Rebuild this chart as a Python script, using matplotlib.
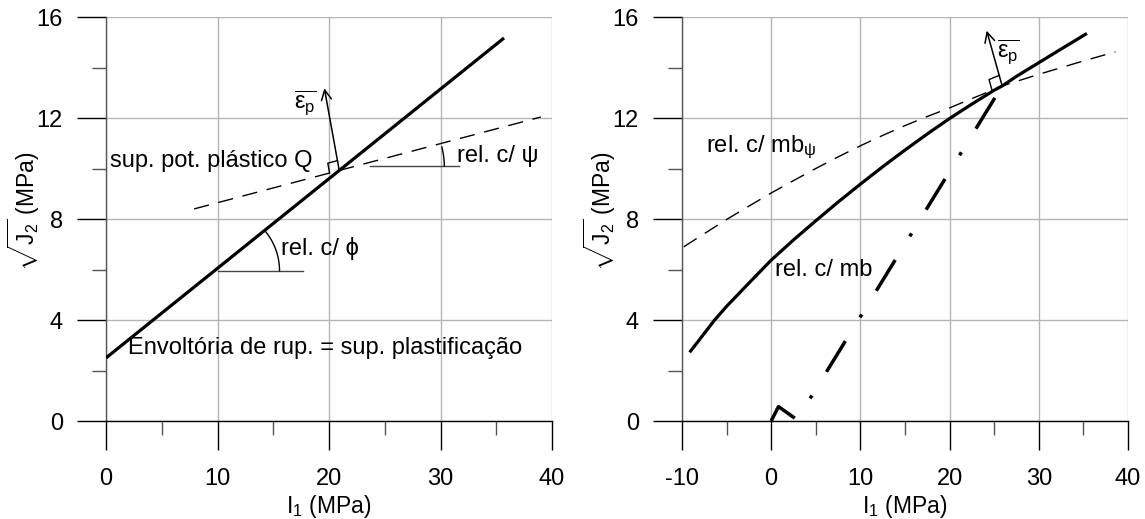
import matplotlib
matplotlib.use('Agg')
import matplotlib.pyplot as plt
import numpy as np
from matplotlib.ticker import MultipleLocator

plt.rcParams['font.family'] = ['Liberation Sans', 'DejaVu Sans']
plt.rcParams['mathtext.fontset'] = 'custom'
plt.rcParams['mathtext.rm'] = 'Liberation Sans'
plt.rcParams['mathtext.it'] = 'Liberation Sans'
plt.rcParams['mathtext.bf'] = 'Liberation Sans:bold'
plt.rcParams['lines.scale_dashes'] = False

# dados - painel esquerdo
env_x = [0.0, 35.7]           # envoltoria de ruptura
env_y = [2.5, 15.17]
pot_x = [7.9, 39.0]           # sup. potencial plastico Q
pot_y = [8.4, 12.04]
eps_tip_left = (19.58, 13.18)

# dados - painel direito
mb_x = [-9.14, -8, -6.34, -5, -2.5, 0, 2.5, 5, 7.5, 10, 12.5, 15, 17.5, 20, 22.5, 25, 25.9, 27.5, 30, 32.5, 35.4]
mb_y = [2.72, 3.24, 4.0, 4.54, 5.46, 6.37, 7.17, 7.93, 8.67, 9.38, 10.07, 10.73, 11.37, 11.98, 12.55, 13.10, 13.27, 13.65, 14.19, 14.73, 15.35]
mbpsi_x = [-9.8, -7.5, -5, -2.5, 0, 2.5, 5, 7.5, 10, 12.5, 15, 17.5, 20, 22.5, 25, 25.9, 30, 35, 38.6]
mbpsi_y = [6.9, 7.42, 7.98, 8.51, 9.03, 9.52, 10.0, 10.46, 10.9, 11.31, 11.70, 12.06, 12.40, 12.77, 13.13, 13.27, 13.73, 14.26, 14.62]
dd_x = [0.0, 0.82, 2.9, 25.9]
dd_y = [0.0, 0.57, 0.05, 13.27]
eps_tip_right = (24.16, 15.46)

fig = plt.figure(figsize=(11.45, 5.19), dpi=100)
axL = fig.add_axes([0.0926, 0.1888, 0.3895, 0.7784])
axR = fig.add_axes([0.5956, 0.1888, 0.3895, 0.7784])

FS_TICK = 17
FS_LAB = 16.5
FS_TXT = 17


def style(ax, xmin):
    ax.set_xlim(xmin, 40)
    ax.set_ylim(0, 16)
    ax.xaxis.set_major_locator(MultipleLocator(10))
    ax.xaxis.set_minor_locator(MultipleLocator(5))
    ax.yaxis.set_major_locator(MultipleLocator(4))
    ax.yaxis.set_minor_locator(MultipleLocator(2))
    ax.grid(True, which='major', color='#b4b4b4', lw=1.0, zorder=0)
    ax.set_axisbelow(True)
    for s in ['top', 'right']:
        ax.spines[s].set_visible(False)
    ax.spines['left'].set_color('#555555')
    ax.spines['bottom'].set_color('black')
    ax.spines['left'].set_linewidth(1.0)
    ax.spines['bottom'].set_linewidth(1.0)
    ax.tick_params(which='major', direction='out', length=21, width=1.0, color='black',
                   labelsize=FS_TICK)
    ax.tick_params(which='minor', direction='out', length=10, width=1.0, color='#555555')
    ax.tick_params(axis='x', which='major', pad=13)
    ax.tick_params(axis='y', which='major', pad=10)
    ax.set_xticklabels([f'{int(v)}' for v in ax.get_xticks()])
    ax.set_xlabel(r'I$_1$ (MPa)', fontsize=FS_LAB)
    ax.xaxis.set_label_coords(0.5, -0.178)
    ax.set_ylabel(r'$\sqrt{J_{2}}$ (MPa)', fontsize=FS_LAB)
    ax.yaxis.set_label_coords(-0.1435, 0.52)


style(axL, 0)
style(axR, -10)


def to_px(ax, p):
    return ax.transData.transform(np.atleast_2d(p))


def to_data(ax, p):
    return ax.transData.inverted().transform(np.atleast_2d(p))


def right_angle(ax, base, tip, along, size=11):
    b = to_px(ax, base)[0]
    u = to_px(ax, tip)[0] - b
    v = to_px(ax, along)[0] - b
    u /= np.linalg.norm(u)
    v /= np.linalg.norm(v)
    pts = np.array([b + size * u, b + size * u + size * v, b + size * v])
    d = to_data(ax, pts)
    ax.plot(d[:, 0], d[:, 1], color='black', lw=1.0, zorder=4)


def arc(ax, center, radius, a0, a1):
    c = to_px(ax, center)[0]
    t = np.radians(np.linspace(a0, a1, 40))
    pts = np.column_stack([c[0] + radius * np.cos(t), c[1] + radius * np.sin(t)])
    d = to_data(ax, pts)
    ax.plot(d[:, 0], d[:, 1], color='black', lw=1.0, zorder=4)


def angle_px(ax, p0, p1):
    a = to_px(ax, p0)[0]
    b = to_px(ax, p1)[0]
    return np.degrees(np.arctan2(b[1] - a[1], b[0] - a[0]))


# ---------- painel esquerdo ----------
axL.plot(env_x, env_y, color='black', lw=2.3, zorder=3, solid_capstyle='butt')
axL.plot(pot_x, pot_y, color='black', lw=1.0, ls=(0, (11, 7)), zorder=3)

# intersecao das duas retas
m1 = (env_y[1] - env_y[0]) / (env_x[1] - env_x[0])
m2 = (pot_y[1] - pot_y[0]) / (pot_x[1] - pot_x[0])
b1 = env_y[0] - m1 * env_x[0]
b2 = pot_y[0] - m2 * pot_x[0]
xi = (b2 - b1) / (m1 - m2)
yi = m1 * xi + b1

axL.annotate('', xy=eps_tip_left, xytext=(xi, yi),
             arrowprops=dict(arrowstyle='->', lw=1.1, color='black',
                             shrinkA=0, shrinkB=0, mutation_scale=18))
right_angle(axL, (xi, yi), eps_tip_left, (pot_x[0], pot_y[0]), size=10)
axL.text(17.9, 12.6, r'$\overline{ε_{p}}$', fontsize=FS_TXT, ha='center', va='center')

# angulo phi
axL.plot([10, 17.7], [5.95, 5.95], color='#444444', lw=1.0, zorder=3)
arc(axL, (10, 5.95), 62, 0, angle_px(axL, (env_x[0], env_y[0]), (env_x[1], env_y[1])))
axL.text(15.7, 6.85, 'rel. c/ ϕ', fontsize=FS_TXT, ha='left', va='center')
# angulo psi
axL.plot([23.7, 31.7], [10.1, 10.1], color='#444444', lw=1.0, zorder=3)
arc(axL, (23.7, 10.1), 74, 0, angle_px(axL, (pot_x[0], pot_y[0]), (pot_x[1], pot_y[1])))
axL.text(31.5, 10.5, 'rel. c/ ψ', fontsize=FS_TXT, ha='left', va='center')

axL.text(0.4, 10.3, 'sup. pot. plástico Q', fontsize=FS_TXT, ha='left', va='center')
axL.text(2.0, 2.9, 'Envoltória de rup. = sup. plastificação', fontsize=FS_TXT,
         ha='left', va='center')

# ---------- painel direito ----------
axR.plot(mbpsi_x, mbpsi_y, color='black', lw=1.0, ls=(0, (11, 7)), zorder=3)
axR.plot(mb_x, mb_y, color='black', lw=2.3, zorder=3, solid_capstyle='butt')
axR.plot(dd_x, dd_y, color='black', lw=2.5, ls=(0, (26, 20, 2.5, 20)), zorder=3,
         dash_capstyle='butt')

base_r = (25.9, 13.27)
axR.annotate('', xy=eps_tip_right, xytext=base_r,
             arrowprops=dict(arrowstyle='->', lw=1.1, color='black',
                             shrinkA=0, shrinkB=0, mutation_scale=18))
right_angle(axR, base_r, eps_tip_right, (20, 12.4), size=11)
axR.text(26.6, 14.63, r'$\overline{ε_{p}}$', fontsize=FS_TXT, ha='center', va='center')

axR.text(-7.3, 10.85, r'rel. c/ mb$_{ψ}$', fontsize=FS_TXT, ha='left', va='center')
axR.text(0.45, 5.98, 'rel. c/ mb', fontsize=FS_TXT, ha='left', va='center')

fig.savefig('out.png', dpi=100)
